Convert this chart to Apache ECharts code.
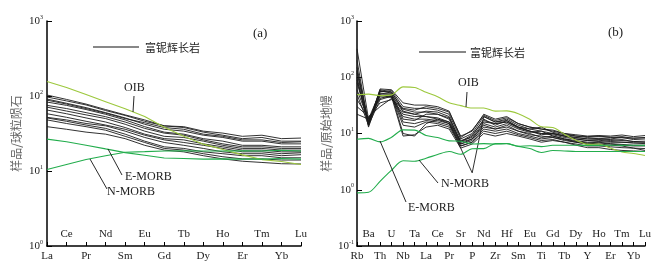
<!DOCTYPE html>
<html><head><meta charset="utf-8">
<script src="https://cdn.jsdelivr.net/npm/echarts@6/dist/echarts.min.js"></script>
<style>html,body{margin:0;padding:0;background:#fff}#c{width:665px;height:274px}</style>
</head><body><div id="c"></div>
<script>
// ---------- data ----------
const reeElements = ['La','Ce','Pr','Nd','Sm','Eu','Gd','Tb','Dy','Ho','Er','Tm','Yb','Lu'];
const spiderElements = ['Rb','Ba','Th','U','Nb','Ta','La','Ce','Pr','Sr','P','Nd','Zr','Hf','Sm','Eu','Ti','Gd','Tb','Dy','Y','Ho','Er','Tm','Yb','Lu'];

// chondrite-normalised REE of Nb-enriched gabbro samples
const reeS1  = [103, 90, 78, 66, 56, 48, 40, 39, 34, 32, 29, 30, 27, 27.5];
const reeS2  = [97, 86, 76, 64, 55, 46, 40, 38, 33, 30, 27, 28, 25, 25];
const reeS3  = [91, 80, 70, 60, 51, 42, 36, 34, 30, 28, 25, 25, 23, 23];
const reeS4  = [83, 75, 66, 57, 48, 39, 33, 31, 27, 25, 22, 22, 21, 21];
const reeS5  = [75, 68, 60, 53, 45, 37, 32, 30, 26, 23, 21, 21, 20, 20];
const reeS6  = [71, 63, 56, 50, 42, 34, 29, 28, 25, 22, 20, 20, 19, 19];
const reeS7  = [65, 58, 51, 45, 38, 31, 27, 26, 23, 21, 19, 19, 18, 18];
const reeS8  = [52, 48, 43, 40, 34, 28, 24, 22, 20, 18, 17, 17, 16, 16.5];
const reeS9  = [51, 46, 41, 37, 31, 25, 21, 20, 18, 17, 16, 16, 15, 15];
const reeS10 = [48, 43, 39, 35, 29, 24, 20, 19, 17, 15.5, 14.5, 14.5, 14, 14];
const reeS11 = [39, 36, 33, 31, 27, 22, 19, 18, 16, 14.5, 13.5, 13, 12.5, 12.4];
const reeS12 = [58, 52, 46, 41, 36, 30, 26, 24, 22, 20, 18, 18, 17, 17.5];
const reeS13 = [88, 78, 68, 59, 50, 44, 38, 36, 31, 29, 26, 26, 24, 24.5];
const reeOIB   = [156, 130, 104.5, 84, 67.6, 53.3, 38.3, 29.1, 22.8, 19.4, 16.4, 14.2, 13.4, 12.2];
const reeEMORB = [26.6, 24.5, 22.1, 19.7, 17.6, 16.2, 14.9, 14.7, 14.4, 14.5, 14.4, 14.4, 14.7, 14.4];
const reeNMORB = [10.5, 12.2, 14.2, 16.0, 17.8, 18.1, 18.5, 18.6, 18.5, 18.5, 18.6, 18.5, 18.9, 18.5];

// primitive-mantle-normalised trace elements
const spS1  = [320, 18, 55, 58, 30, 28, 28, 26, 22, 8, 10, 20, 16, 18, 14, 12, 11, 10, 9, 8.5, 8, 8.2, 8, 8.5, 7.8, 8];
const spS2  = [150, 15, 60, 55, 25, 22, 25, 24, 20, 7, 9, 18, 14, 17, 13, 11, 10, 9.5, 8.5, 8, 7.5, 7.8, 7.5, 7.8, 7.2, 7.3];
const spS3  = [120, 14, 58, 52, 18, 17, 22, 22, 18, 6.5, 8, 15, 13, 15, 12, 10.5, 11, 9, 8, 7.5, 7, 7.2, 7, 7, 6.8, 6.8];
const spS4  = [100, 13, 50, 50, 10, 9, 15, 18, 16, 6, 7, 12, 11, 12, 10, 9, 8, 8.5, 7.5, 7, 6.5, 6.8, 6.5, 6.2, 6, 6];
const spS5  = [80, 16, 48, 45, 9, 9.5, 13, 14, 12, 5.5, 6.5, 10, 9, 10, 9, 8, 7, 7.5, 7, 6.5, 6, 6, 5.8, 5.6, 5.5, 5.4];
const spS6  = [60, 17, 45, 44, 22, 20, 20, 19, 16, 7.5, 8.5, 16, 15, 16, 12.5, 11, 9.5, 10, 9, 8.5, 8, 8, 7.8, 7.5, 7.2, 7];
const spS7  = [40, 19, 35, 40, 28, 26, 30, 28, 24, 9, 11, 22, 18, 20, 15, 13, 12, 11, 10, 9.5, 9, 9.2, 9, 9.4, 8.8, 9.2];
const spS8  = [30, 20, 30, 42, 20, 18, 18, 17, 15, 7, 8, 14, 12, 13, 11, 10, 8.5, 9, 8, 7.2, 6.8, 7, 6.6, 6.4, 6.2, 6.2];
const spS9  = [22, 18, 42, 48, 16, 15, 17, 16, 14, 6.5, 7.5, 13, 12, 14, 11, 9.5, 9, 8.5, 7.8, 7, 6.5, 6.5, 6.2, 6, 5.5, 5];
const spS10 = [200, 14, 62, 60, 35, 32, 32, 30, 25, 8.5, 11.5, 21, 17, 19, 15, 13, 12, 11.5, 10, 9, 8.5, 8.8, 8.5, 8.8, 8.2, 8.5];
const spS11 = [90, 15, 52, 50, 24, 22, 20, 18, 15, 5.5, 2, 20, 16, 17, 13, 11, 10, 10, 9, 8, 7.5, 7.6, 7.2, 7, 6.8, 6.6];
const spS12 = [50, 14, 40, 46, 14, 13, 16, 15, 13, 6, 7, 11, 10, 11, 9.5, 8.5, 7.5, 7.8, 7, 6.2, 5.6, 5.6, 5.2, 5, 4.9, 4.8];
const spS13 = [130, 16, 56, 54, 27, 24, 24, 22, 19, 7.2, 9.5, 17, 15, 16, 13, 12, 13, 10.5, 9.5, 9, 8.8, 9, 8.6, 8.4, 8.3, 8.4];
const spOIB   = [48.8, 50.1, 47.1, 48.6, 67.3, 65.9, 53.9, 45.1, 35.1, 31.3, 28.4, 28.4, 25, 25.2, 22.5, 17.9, 13.2, 12.8, 9.7, 7.6, 6.4, 6.5, 5.5, 4.7, 4.4, 4.05];
const spEMORB = [7.9, 8.2, 7.1, 8.6, 11.6, 11.5, 9.2, 8.5, 7.4, 7.3, 6.5, 6.6, 6.5, 6.6, 5.9, 5.4, 4.6, 5.0, 4.9, 4.8, 4.8, 4.8, 4.8, 4.8, 4.8, 4.8];
const spNMORB = [0.88, 0.90, 1.41, 2.24, 3.27, 3.22, 3.64, 4.23, 4.78, 4.27, 5.37, 5.39, 6.6, 6.63, 5.92, 6.07, 5.85, 6.17, 6.2, 6.17, 6.15, 6.16, 6.19, 6.16, 6.19, 6.15];

const yRangeA = [1, 1000];
const yRangeB = [0.1, 1000];

const reeSamples = [reeS1, reeS2, reeS3, reeS4, reeS5, reeS6, reeS7, reeS8, reeS9, reeS10, reeS11, reeS12, reeS13];
const spSamples = [spS1, spS2, spS3, spS4, spS5, spS6, spS7, spS8, spS9, spS10, spS11, spS12, spS13];

// ---------- chart ----------
const SERIF = '"Liberation Serif", "DejaVu Serif", serif';
const CJK = '"Noto Sans CJK SC", sans-serif';
const BLACK = '#1b1b1b';
const OIBC = '#9cc83c';
const MORBC = '#22ad4c';

function expLabel(v) {
  const e = Math.round(Math.log10(v));
  return '{b|10}{s|' + (e < 0 ? '-' + (-e) : e) + '}';
}
const yLabelRich = {
  b: { fontSize: 11, fontFamily: SERIF, color: '#222', lineHeight: 14 },
  s: { fontSize: 6, fontFamily: SERIF, color: '#222', verticalAlign: 'top', lineHeight: 8 }
};

function xAxes(gridIndex, data) {
  const base = { type: 'category', gridIndex, data, boundaryGap: false, position: 'bottom' };
  return [
    Object.assign({}, base, {
      axisLine: { lineStyle: { color: '#000', width: 1.5 } },
      axisTick: { inside: true, length: 4, interval: 0, lineStyle: { color: '#000', width: 1 } },
      axisLabel: { interval: (i) => i % 2 === 0, margin: 5, fontSize: 11, fontFamily: SERIF, color: '#222' }
    }),
    Object.assign({}, base, {
      axisLine: { show: false }, axisTick: { show: false },
      axisLabel: { inside: true, interval: (i) => i % 2 === 1, margin: 6, fontSize: 11, fontFamily: SERIF, color: '#222' }
    })
  ];
}
function yAxis(gridIndex, range, name, margin) {
  return {
    type: 'log', logBase: 10, gridIndex, min: range[0], max: range[1],
    name, nameLocation: 'middle', nameGap: 25, nameRotate: 90,
    nameTextStyle: { fontFamily: CJK, fontSize: 12, color: '#666' },
    axisLine: { show: true, lineStyle: { color: '#000', width: 1.5 } },
    axisTick: { show: true, inside: true, length: 5, lineStyle: { color: '#000', width: 1 } },
    minorTick: { show: false },
    splitLine: { show: false },
    axisLabel: { formatter: expLabel, rich: yLabelRich, margin },
  };
}

const series = [];
reeSamples.forEach((d) => series.push({ type: 'line', xAxisIndex: 0, yAxisIndex: 0, data: d, symbol: 'none', lineStyle: { color: BLACK, width: 0.9 }, silent: true }));
series.push({ type: 'line', xAxisIndex: 0, yAxisIndex: 0, data: reeOIB, symbol: 'none', lineStyle: { color: OIBC, width: 1.1 } });
series.push({ type: 'line', xAxisIndex: 0, yAxisIndex: 0, data: reeEMORB, symbol: 'none', lineStyle: { color: MORBC, width: 1.1 } });
series.push({ type: 'line', xAxisIndex: 0, yAxisIndex: 0, data: reeNMORB, symbol: 'none', lineStyle: { color: MORBC, width: 1.1 } });
spSamples.forEach((d) => series.push({ type: 'line', xAxisIndex: 2, yAxisIndex: 1, data: d, symbol: 'none', lineStyle: { color: BLACK, width: 0.9 }, silent: true }));
series.push({ type: 'line', xAxisIndex: 2, yAxisIndex: 1, data: spOIB, symbol: 'none', smooth: 0.3, lineStyle: { color: OIBC, width: 1.1 } });
series.push({ type: 'line', xAxisIndex: 2, yAxisIndex: 1, data: spEMORB, symbol: 'none', smooth: 0.3, lineStyle: { color: MORBC, width: 1.1 } });
series.push({ type: 'line', xAxisIndex: 2, yAxisIndex: 1, data: spNMORB, symbol: 'none', smooth: 0.3, lineStyle: { color: MORBC, width: 1.1 } });

function gLine(x1, y1, x2, y2, w) {
  return { type: 'line', shape: { x1, y1, x2, y2 }, style: { stroke: '#111', lineWidth: w || 0.9 }, z: 100 };
}
function gText(text, x, y, font, extra) {
  return { type: 'text', x, y, style: Object.assign({ text, font, fill: '#222', verticalAlign: 'middle', align: 'left' }, extra || {}), z: 100 };
}
const F12 = '12px ' + SERIF;

const option = {
  backgroundColor: '#fff',
  animation: false,
  grid: [
    { left: 47, top: 21, width: 254, height: 225 },
    { left: 357, top: 21, width: 288, height: 225 }
  ],
  xAxis: [...xAxes(0, reeElements), ...xAxes(1, spiderElements)],
  yAxis: [yAxis(0, yRangeA, '样品/球粒陨石', 4), yAxis(1, yRangeB, '样品/原始地幔', 3)],
  series,
  graphic: [
    // panel (a)
    gLine(93, 47, 139, 47, 1.2),
    gText('富铌辉长岩', 145, 48, '11px ' + CJK),
    gText('(a)', 253, 34, '13px ' + SERIF),
    gText('OIB', 124, 88, F12),
    gLine(134, 96, 133, 112),
    gText('E-MORB', 125, 177, F12),
    gLine(108, 149, 122, 175),
    gText('N-MORB', 107, 192, F12),
    gLine(90, 159, 107, 189),
    // panel (b)
    gLine(419, 52, 466, 52, 1.2),
    gText('富铌辉长岩', 470, 53, '11px ' + CJK),
    gText('(b)', 608, 33, '13px ' + SERIF),
    gText('OIB', 458, 83, F12),
    gLine(467, 92, 466, 107),
    gText('E-MORB', 408, 208, F12),
    gLine(380, 141, 406, 202),
    gText('N-MORB', 441, 184, F12),
    gLine(419, 160, 438, 183)
  ]
};
const chart = echarts.init(document.getElementById('c'), null, { renderer: 'canvas' });
chart.setOption(option);
</script></body></html>
